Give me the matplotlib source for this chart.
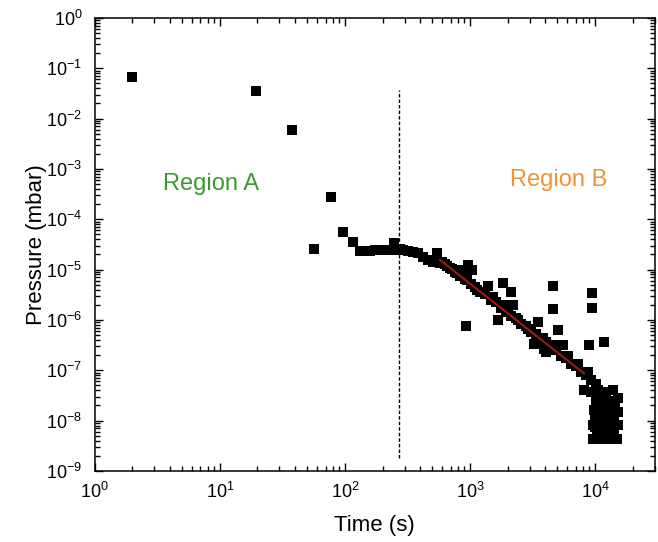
import matplotlib
matplotlib.use("Agg")
import matplotlib.pyplot as plt
from matplotlib.ticker import LogLocator, NullFormatter

plt.rcParams['font.family'] = ['Liberation Sans', 'DejaVu Sans']
plt.rcParams['mathtext.fontset'] = 'custom'
plt.rcParams['mathtext.rm'] = 'Liberation Sans'
plt.rcParams['mathtext.it'] = 'Liberation Sans:italic'
plt.rcParams['mathtext.bf'] = 'Liberation Sans:bold'

# ---- data (time in s, pressure in mbar) ----
time_early = [2.0, 19.3, 38, 57, 77, 96, 116]
pres_early = [6.7e-2, 3.5e-2, 5.9e-3, 2.6e-5, 2.8e-4, 5.6e-5, 3.5e-5]

time_plateau = [132, 139, 145, 160, 174, 191, 210, 230, 247, 261, 277, 292,
                321, 352, 386, 423, 464, 509, 548, 580]
pres_plateau = [2.33e-5, 2.33e-5, 2.33e-5, 2.33e-5, 2.44e-5, 2.44e-5, 2.44e-5,
                2.44e-5, 3.4e-5, 2.44e-5, 2.6e-5, 2.44e-5, 2.33e-5, 2.23e-5,
                2.13e-5, 1.77e-5, 1.55e-5, 1.41e-5, 2.13e-5, 1.35e-5]

time_decay = [601, 635, 660, 697, 723, 765, 794, 839, 871, 920, 955, 972, 1010,
              1047, 1107, 1148, 1214, 1259, 1331, 1383, 1461, 1517, 1603, 1663,
              1758, 1824, 1824, 1928, 2000, 2113, 2113, 2194, 2319, 2408, 2544,
              2791, 2897, 3062, 3236, 3359, 3484, 3685, 3822, 3894, 4042, 4042,
              4434, 4600, 4865, 5047, 5337, 5534, 5854, 6067, 6421, 7043, 7300,
              7726, 8467, 8790, 9290]
pres_decay = [1.41e-5, 1.29e-5, 1.17e-5, 1.07e-5, 1.02e-5, 8.9e-6, 8.5e-6, 7.4e-6,
              9.8e-6, 6.5e-6, 6.2e-6, 1.23e-5, 5.15e-6, 9.8e-6, 4.5e-6, 3.9e-6,
              3.57e-6, 3.57e-6, 3.26e-6, 4.7e-6, 2.48e-6, 2.84e-6, 2.26e-6, 9.9e-7,
              1.72e-6, 5.4e-6, 1.97e-6, 1.57e-6, 1.43e-6, 1.19e-6, 3.57e-6, 1.97e-6,
              1.09e-6, 9.9e-7, 8.3e-7, 7.5e-7, 6.6e-7, 5.7e-7, 3.3e-7, 5.2e-7,
              9.0e-7, 4.0e-7, 4.35e-7, 2.63e-7, 3.6e-7, 2.29e-7, 2.75e-7, 3.15e-7,
              2.5e-7, 6.3e-7, 1.9e-7, 3.15e-7, 1.74e-7, 1.9e-7, 1.32e-7, 1.21e-7,
              1.32e-7, 9.2e-8, 8.0e-8, 9.2e-8, 6.4e-8]

time_outlier = [937, 4600, 4600, 9460, 9460, 8950, 11810, 8165]
pres_outlier = [7.5e-7, 4.7e-6, 1.64e-6, 3.4e-6, 1.72e-6, 3.15e-7, 3.6e-7, 4.0e-8]

time_tail = [10190, 10570, 11170, 12250, 13960, 15300, 14480, 15300, 11170, 12710,
             9818, 11170, 12710, 14220, 10000, 11170, 12710, 14220, 10000, 11170,
             12710, 14220, 9640, 10770, 12030, 13450, 15030, 9640, 10190, 9290,
             12030, 13450, 13450, 10380, 12030, 13960, 15300]
pres_tail = [5.3e-8, 4.0e-8, 3.2e-8, 3.67e-8, 4.0e-8, 2.79e-8, 2.0e-8, 1.47e-8,
             2.22e-8, 2.0e-8, 1.6e-8, 1.4e-8, 1.22e-8, 1.02e-8, 1.12e-8, 9.3e-9,
             8.5e-9, 7.4e-9, 7.4e-9, 6.4e-9, 6.4e-9, 6.4e-9, 4.3e-9, 4.3e-9,
             4.3e-9, 4.3e-9, 4.3e-9, 8.1e-9, 2.5e-8, 3.67e-8, 1.6e-8, 2.5e-8,
             1.47e-8, 5.1e-9, 5.1e-9, 5.1e-9, 8.1e-9]

time_all = time_early + time_plateau + time_decay + time_outlier + time_tail
pres_all = pres_early + pres_plateau + pres_decay + pres_outlier + pres_tail

fit_time = [577, 8150]
fit_pres = [1.55e-5, 8.7e-8]

boundary_time = 270
boundary_range = [1.8e-9, 3.7e-2]

regions = ["Region A", "Region B"]
region_pos_time = [8.55, 5140]
region_pos_pres = [5.0e-4, 6.0e-4]
region_colors = ["#3a9a2f", "#f29236"]

# ---- figure ----
fig = plt.figure(figsize=(6.58, 5.42), dpi=100)
ax = fig.add_axes([0.144, 0.131, 0.851, 0.836])

ax.plot(time_all, pres_all, linestyle='none', marker='s', markersize=7.3,
        markeredgewidth=0, color='black', zorder=3)
ax.plot(fit_time, fit_pres, color='#a01818', linewidth=1.5, zorder=4)
ax.plot([boundary_time, boundary_time], boundary_range, color='black',
        linewidth=1.0, linestyle=(0, (2.5, 1.5)), zorder=2)

for label, tx, py, c in zip(regions, region_pos_time, region_pos_pres, region_colors):
    ax.text(tx, py, label, color=c, fontsize=17, ha='center', va='center')

ax.set_xscale('log')
ax.set_yscale('log')
ax.set_xlim(1, 3e4)
ax.set_ylim(1e-9, 1)

ax.xaxis.set_major_locator(LogLocator(base=10, numticks=10))
ax.xaxis.set_minor_locator(LogLocator(base=10, subs=range(2, 10), numticks=20))
ax.xaxis.set_minor_formatter(NullFormatter())
ax.yaxis.set_major_locator(LogLocator(base=10, numticks=12))
ax.yaxis.set_minor_locator(LogLocator(base=10, subs=range(2, 10), numticks=20))
ax.yaxis.set_minor_formatter(NullFormatter())

ax.tick_params(which='both', direction='in', top=True, right=True,
               width=1.0, labelsize=13, colors='black')
ax.tick_params(which='major', length=6)
ax.tick_params(which='minor', length=3.5)
ax.tick_params(axis='x', which='major', pad=8)
ax.tick_params(axis='y', which='major', pad=9)
for s in ax.spines.values():
    s.set_linewidth(1.1)

ax.set_xlabel("Time (s)", fontsize=16, labelpad=9)
ax.set_ylabel("Pressure (mbar)", fontsize=16, labelpad=-1)

fig.savefig("out.png", dpi=100)
